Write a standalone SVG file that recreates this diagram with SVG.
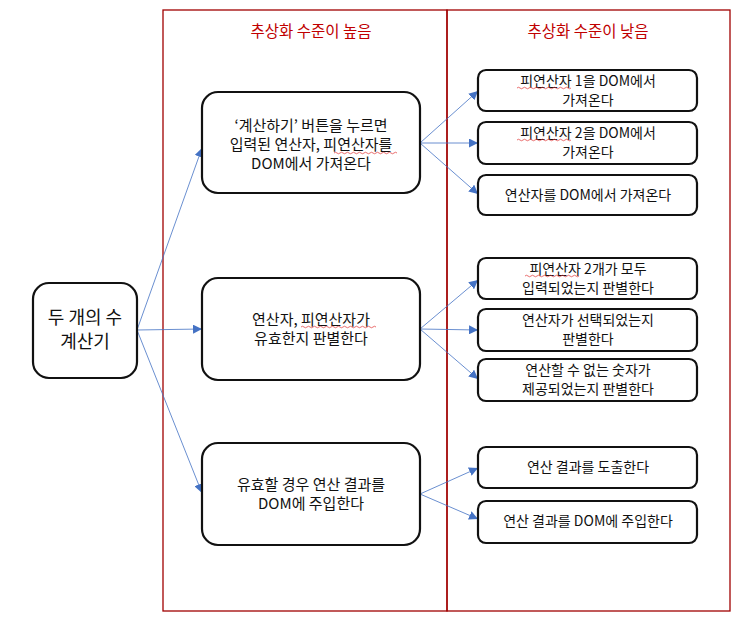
<svg xmlns="http://www.w3.org/2000/svg" width="750" height="618" viewBox="0 0 750 618">
<style>
.lane{fill:none;stroke:#A00000;stroke-width:1.3}
.title{font-family:"Noto Sans CJK KR","Liberation Sans",sans-serif;font-size:15.5px;fill:#C00000;text-anchor:middle}
.box{fill:#fff;stroke:#111;stroke-width:2.2}
.t{font-family:"Noto Sans CJK KR","Liberation Sans",sans-serif;fill:#111;text-anchor:middle}
.big{font-size:18px}
.mid{font-size:15px}
.sm{font-size:14px}
.conn{fill:none;stroke:#4472C4;stroke-width:0.8;marker-end:url(#ah)}
.wavy{fill:none;stroke:#E03030;stroke-width:0.7}
</style>
<defs>
<marker id="ah" viewBox="0 0 10 10" refX="10" refY="5" markerWidth="9" markerHeight="9" markerUnits="userSpaceOnUse" orient="auto">
<path d="M0,0 L10,5 L0,10 z" fill="#4472C4"/>
</marker>
</defs>
<rect width="750" height="618" fill="#fff"/>
<g id="lanes">
<rect class="lane" x="163" y="10" width="284" height="601"/>
<rect class="lane" x="447" y="10" width="283" height="601"/>
<text class="title" x="311" y="37">추상화 수준이 높음</text>
<text class="title" x="588" y="37">추상화 수준이 낮음</text>
</g>
<g id="connectors">
<path class="conn" d="M137,330 L202,148"/>
<path class="conn" d="M137,330 L202,329"/>
<path class="conn" d="M137,330 L202,493"/>
<path class="conn" d="M420,143 L478,91"/>
<path class="conn" d="M420,143 L478,143"/>
<path class="conn" d="M420,143 L478,194"/>
<path class="conn" d="M420,329 L478,280"/>
<path class="conn" d="M420,329 L478,330"/>
<path class="conn" d="M420,329 L478,379"/>
<path class="conn" d="M420,494 L478,468"/>
<path class="conn" d="M420,494 L478,519"/>
</g>
<g id="n-root">
<rect class="box" x="33" y="283" width="104" height="95" rx="16"/>
<text class="t big" x="85" y="324">두 개의 수</text>
<text class="t big" x="85" y="348">계산기</text>
</g>
<g id="n-fetch">
<rect class="box" x="202" y="92" width="218" height="101" rx="16"/>
<text class="t mid" x="311" y="131">‘계산하기’ 버튼을 누르면</text>
<text class="t mid" x="311" y="150">입력된 연산자, 피연산자를</text>
<text class="t mid" x="311" y="169">DOM에서 가져온다</text>
<path class="wavy" d="M334,153 q1.5,-1.5 3,0 t3,0 t3,0 t3,0 t3,0 t3,0 t3,0 t3,0 t3,0 t3,0 t3,0 t3,0 t3,0 t3,0 t3,0 t3,0 t3,0 t3,0 t3,0 t3,0 t3,0"/>
</g>
<g id="n-validate">
<rect class="box" x="202" y="278" width="218" height="102" rx="16"/>
<text class="t mid" x="311" y="325">연산자, 피연산자가</text>
<text class="t mid" x="311" y="344">유효한지 판별한다</text>
<path class="wavy" d="M301,327 q1.5,-1.5 3,0 t3,0 t3,0 t3,0 t3,0 t3,0 t3,0 t3,0 t3,0 t3,0 t3,0 t3,0 t3,0 t3,0 t3,0 t3,0 t3,0 t3,0 t3,0 t3,0 t3,0 t3,0 t3,0 t3,0 t3,0"/>
</g>
<g id="n-inject">
<rect class="box" x="202" y="443" width="218" height="102" rx="16"/>
<text class="t mid" x="311" y="490">유효할 경우 연산 결과를</text>
<text class="t mid" x="311" y="509">DOM에 주입한다</text>
</g>
<g id="n-r1">
<rect class="box" x="478" y="70" width="219" height="41" rx="8"/>
<text class="t sm" x="588" y="86">피연산자 1을 DOM에서</text>
<text class="t sm" x="588" y="105">가져온다</text>
<path class="wavy" d="M517,88 q1.5,-1.5 3,0 t3,0 t3,0 t3,0 t3,0 t3,0 t3,0 t3,0 t3,0 t3,0 t3,0 t3,0 t3,0 t3,0 t3,0 t3,0 t3,0 t3,0"/>
</g>
<g id="n-r2">
<rect class="box" x="478" y="122" width="219" height="42" rx="8"/>
<text class="t sm" x="588" y="138">피연산자 2을 DOM에서</text>
<text class="t sm" x="588" y="157">가져온다</text>
<path class="wavy" d="M517,140 q1.5,-1.5 3,0 t3,0 t3,0 t3,0 t3,0 t3,0 t3,0 t3,0 t3,0 t3,0 t3,0 t3,0 t3,0 t3,0 t3,0 t3,0 t3,0 t3,0"/>
</g>
<g id="n-r3">
<rect class="box" x="478" y="175" width="219" height="40" rx="8"/>
<text class="t sm" x="588" y="200">연산자를 DOM에서 가져온다</text>
</g>
<g id="n-r4">
<rect class="box" x="478" y="258" width="219" height="41" rx="8"/>
<text class="t sm" x="588" y="274">피연산자 2개가 모두</text>
<text class="t sm" x="588" y="293">입력되었는지 판별한다</text>
<path class="wavy" d="M525,276 q1.5,-1.5 3,0 t3,0 t3,0 t3,0 t3,0 t3,0 t3,0 t3,0 t3,0 t3,0 t3,0 t3,0 t3,0 t3,0 t3,0 t3,0 t3,0 t3,0"/>
</g>
<g id="n-r5">
<rect class="box" x="478" y="309" width="219" height="42" rx="8"/>
<text class="t sm" x="588" y="325">연산자가 선택되었는지</text>
<text class="t sm" x="588" y="344">판별한다</text>
</g>
<g id="n-r6">
<rect class="box" x="478" y="359" width="219" height="42" rx="8"/>
<text class="t sm" x="588" y="375">연산할 수 없는 숫자가</text>
<text class="t sm" x="588" y="394">제공되었는지 판별한다</text>
</g>
<g id="n-r7">
<rect class="box" x="478" y="447" width="219" height="41" rx="8"/>
<text class="t sm" x="588" y="472">연산 결과를 도출한다</text>
</g>
<g id="n-r8">
<rect class="box" x="478" y="501" width="219" height="42" rx="8"/>
<text class="t sm" x="588" y="526">연산 결과를 DOM에 주입한다</text>
</g>
</svg>
